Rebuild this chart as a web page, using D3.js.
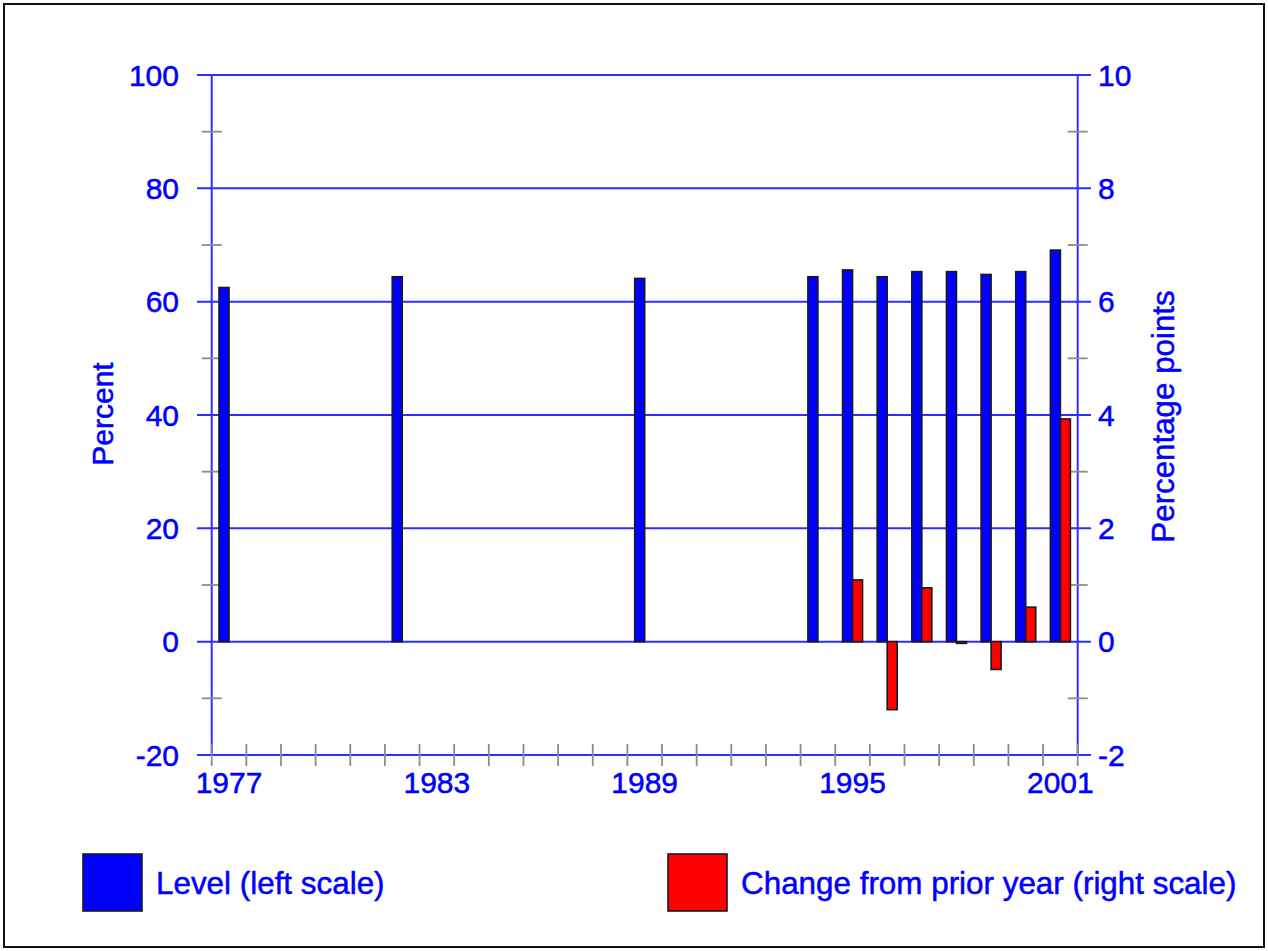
<!DOCTYPE html>
<html>
<head>
<meta charset="utf-8">
<script src="https://cdn.jsdelivr.net/npm/d3@7"></script>
<style>
  html, body { margin: 0; padding: 0; background: #fff; }
  svg { display: block; }
  text { font-family: "Liberation Sans", Arial, sans-serif; fill: #0000ff; stroke: #0000ff; stroke-width: 0.5; }
</style>
</head>
<body>
<svg id="chart" width="1268" height="951"></svg>
<script>
// ---- data ----
const years = [1977, 1982, 1989, 1994, 1995, 1996, 1997, 1998, 1999, 2000, 2001];
const levelValues = [62.5, 64.4, 64.1, 64.4, 65.6, 64.4, 65.3, 65.3, 64.8, 65.3, 69.1];
const changeValues = [null, null, null, null, 1.09, -1.2, 0.95, -0.03, -0.49, 0.61, 3.93];
const xTickLabels = [1977, 1983, 1989, 1995, 2001];
const leftTicks = [-20, 0, 20, 40, 60, 80, 100];
const rightTicks = [-2, 0, 2, 4, 6, 8, 10];
const seriesNames = ["Level (left scale)", "Change from prior year (right scale)"];
const seriesColors = ["#0000ff", "#ff0000"];

// ---- layout ----
const svg = d3.select("#chart");
const plotLeft = 211.7, plotRight = 1077.7, plotTop = 75, plotBottom = 755;
const gridColor = "#2e2eff", tickColor = "#8c8c8c";

const allYears = d3.range(1977, 2002);
const x = d3.scaleBand().domain(allYears).range([plotLeft, plotRight]).paddingInner(0).paddingOuter(0);
const sub = d3.scaleBand().domain(["level", "change"]).range([0, x.bandwidth()]).paddingInner(0).paddingOuter(0.732);
const yL = d3.scaleLinear().domain([-20, 100]).range([plotBottom, plotTop]);
const yR = d3.scaleLinear().domain([-2, 10]).range([plotBottom, plotTop]);

// frame
svg.append("rect").attr("x", 4).attr("y", 4).attr("width", 1260).attr("height", 943)
  .attr("fill", "none").attr("stroke", "#111").attr("stroke-width", 2);

// horizontal gridlines (major ticks)
svg.append("g").selectAll("line").data(leftTicks).join("line")
  .attr("x1", 197).attr("x2", 1091)
  .attr("y1", d => yL(d)).attr("y2", d => yL(d))
  .attr("stroke", gridColor).attr("stroke-width", 2);

// vertical axes
[plotLeft, plotRight].forEach(xx => {
  svg.append("line").attr("x1", xx).attr("x2", xx).attr("y1", plotTop).attr("y2", plotBottom)
    .attr("stroke", gridColor).attr("stroke-width", 2);
});

// minor y ticks
const minorY = d3.range(-10, 100, 20);
[plotLeft, plotRight].forEach(xx => {
  svg.append("g").selectAll("line").data(minorY).join("line")
    .attr("x1", xx - 10).attr("x2", xx + 10)
    .attr("y1", d => yL(d)).attr("y2", d => yL(d))
    .attr("stroke", tickColor).attr("stroke-width", 1.8);
});

// x ticks at band boundaries
const xBoundaries = allYears.map(d => x(d)).concat([plotRight]);
svg.append("g").selectAll("line").data(xBoundaries).join("line")
  .attr("x1", d => d).attr("x2", d => d)
  .attr("y1", plotBottom - 11).attr("y2", plotBottom + 11)
  .attr("stroke", tickColor).attr("stroke-width", 1.8);

// y tick labels
svg.append("g").selectAll("text").data(leftTicks).join("text")
  .attr("x", 179).attr("y", d => yL(d) + 10.5)
  .attr("text-anchor", "end").attr("font-size", 30).text(d => d);
svg.append("g").selectAll("text").data(rightTicks).join("text")
  .attr("x", 1098).attr("y", d => yR(d) + 10.5)
  .attr("text-anchor", "start").attr("font-size", 30).text(d => d);

// x tick labels
svg.append("g").selectAll("text").data(xTickLabels).join("text")
  .attr("x", d => x(d) + x.bandwidth() / 2).attr("y", 793)
  .attr("text-anchor", "middle").attr("font-size", 30).text(d => d);

// axis titles
svg.append("text").attr("transform", "translate(113,414) rotate(-90)")
  .attr("text-anchor", "middle").attr("font-size", 30).text("Percent");
svg.append("text").attr("transform", "translate(1174,416.5) rotate(-90)")
  .attr("text-anchor", "middle").attr("font-size", 31.3).text("Percentage points");

// bars
const data = years.map((yr, i) => ({ year: yr, level: levelValues[i], change: changeValues[i] }));
svg.append("g").selectAll("rect").data(data).join("rect")
  .attr("x", d => x(d.year) + sub("level"))
  .attr("width", sub.bandwidth())
  .attr("y", d => yL(Math.max(0, d.level)))
  .attr("height", d => Math.abs(yL(d.level) - yL(0)))
  .attr("fill", seriesColors[0]).attr("stroke", "#1a1a1a").attr("stroke-width", 1.6);
svg.append("g").selectAll("rect").data(data.filter(d => d.change !== null)).join("rect")
  .attr("x", d => x(d.year) + sub("change"))
  .attr("width", sub.bandwidth())
  .attr("y", d => yR(Math.max(0, d.change)))
  .attr("height", d => Math.abs(yR(d.change) - yR(0)))
  .attr("fill", seriesColors[1]).attr("stroke", "#1a1a1a").attr("stroke-width", 1.6);

// legend
const legendX = [83, 668];
seriesNames.forEach((name, i) => {
  svg.append("rect").attr("x", legendX[i]).attr("y", 854).attr("width", 59).attr("height", 57)
    .attr("fill", seriesColors[i]).attr("stroke", "#1a1a1a").attr("stroke-width", 1.6);
  svg.append("text").attr("x", legendX[i] + 73).attr("y", 894)
    .attr("font-size", 31.4).text(name);
});
</script>
</body>
</html>
